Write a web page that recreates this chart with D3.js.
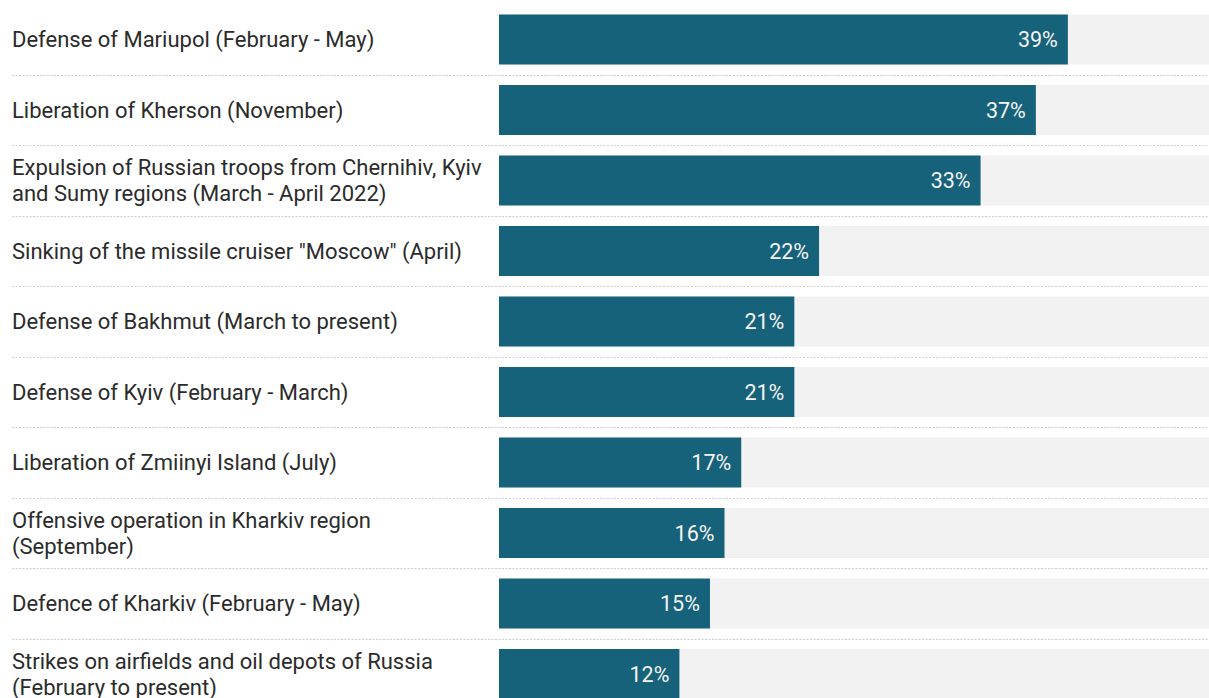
<!DOCTYPE html>
<html>
<head>
<meta charset="utf-8">
<script src="https://cdn.jsdelivr.net/npm/d3@7"></script>
<style>
  html, body { margin: 0; padding: 0; background: #ffffff; }
  #chart { width: 1209px; height: 698px; overflow: hidden; }
</style>
</head>
<body>
<div id="chart"></div>
<script>
// battles / events and share of respondents (bar length)
const categories = [
    "Defense of Mariupol (February - May)",
    "Liberation of Kherson (November)",
    "Expulsion of Russian troops from Chernihiv, Kyiv\nand Sumy regions (March - April 2022)",
    "Sinking of the missile cruiser \"Moscow\" (April)",
    "Defense of Bakhmut (March to present)",
    "Defense of Kyiv (February - March)",
    "Liberation of Zmiinyi Island (July)",
    "Offensive operation in Kharkiv region\n(September)",
    "Defence of Kharkiv (February - May)",
    "Strikes on airfields and oil depots of Russia\n(February to present)"
];
const shares = [39.1, 36.9, 33.1, 22.0, 20.3, 20.3, 16.65, 15.5, 14.5, 12.4];
const valueLabels = ["39%", "37%", "33%", "22%", "21%", "21%", "17%", "16%", "15%", "12%"];
const trackMax = 48.8;

const width = 1209;
const height = 698;

const svg = d3.select("#chart").append("svg")
    .attr("width", width)
    .attr("height", height)
    .style("font-family", "Roboto, 'Noto Sans', sans-serif");

const rows = categories.map((c, i) => ({ cat: c, share: shares[i], label: valueLabels[i] }));

// Scales
const x = d3.scaleLinear()
    .domain([0, trackMax])
    .range([499, width]);

const y = d3.scaleBand()
    .domain(categories)
    .range([4.25, 709.25])
    .padding(0);

const barH = 50;

// dotted separators between rows
svg.selectAll("line.sep")
    .data(categories.slice(1))
    .enter()
    .append("line")
    .attr("class", "sep")
    .attr("x1", 12)
    .attr("x2", width)
    .attr("y1", d => Math.round(y(d)) + 0.5)
    .attr("y2", d => Math.round(y(d)) + 0.5)
    .attr("stroke", "#cccccc")
    .attr("stroke-width", 1)
    .attr("stroke-dasharray", "2,1.5");

const g = svg.selectAll("g.row")
    .data(rows)
    .enter()
    .append("g")
    .attr("class", "row")
    .attr("transform", d => `translate(0,${y(d.cat) + y.bandwidth() / 2})`);

// background track
g.append("rect")
    .attr("x", x(0))
    .attr("y", -barH / 2)
    .attr("width", x(trackMax) - x(0))
    .attr("height", barH)
    .attr("fill", "#f2f2f2");

// bar
g.append("rect")
    .attr("x", x(0))
    .attr("y", -barH / 2)
    .attr("width", d => x(d.share) - x(0))
    .attr("height", barH)
    .attr("fill", "#17627b");

// value label inside the bar
g.append("text")
    .attr("x", d => x(d.share) - 10)
    .attr("y", 0)
    .attr("dy", "0.35em")
    .attr("text-anchor", "end")
    .style("font-size", "21.5px")
    .attr("fill", "#f4f4f4")
    .text(d => d.label);

// category label, multi-line where the source wraps
g.each(function(d) {
    const lines = d.cat.split("\n");
    const lh = 26;
    const t = d3.select(this).append("text")
        .attr("x", 12)
        .style("font-size", "22px")
        .attr("fill", "#2b2b2b");
    lines.forEach((ln, k) => {
        t.append("tspan")
            .attr("x", 12)
            .attr("y", (k - (lines.length - 1) / 2) * lh)
            .attr("dy", "0.35em")
            .text(ln);
    });
});
</script>
</body>
</html>
